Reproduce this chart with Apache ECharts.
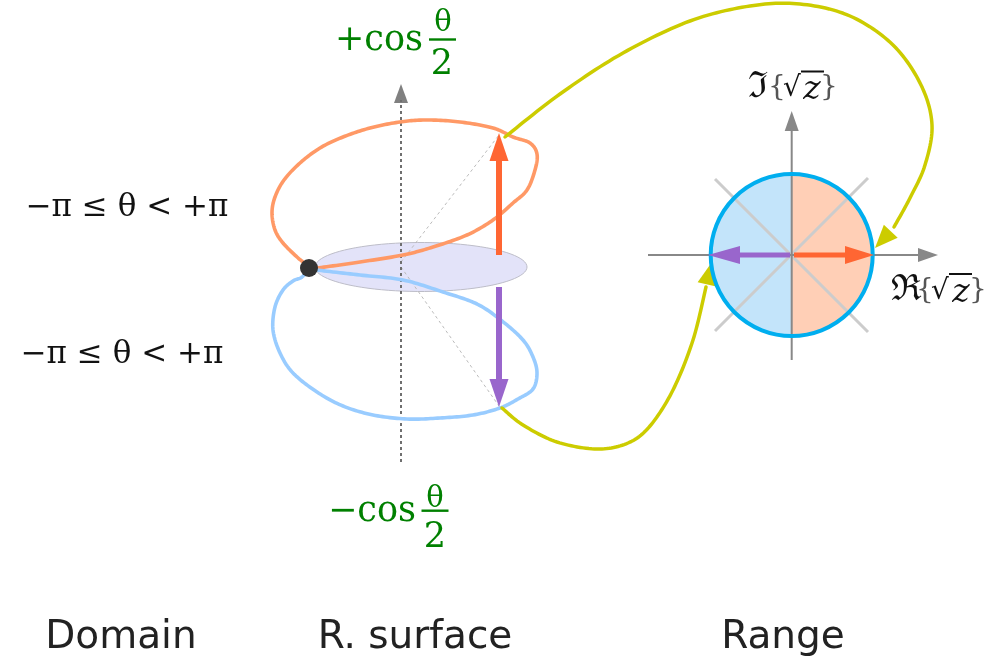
<!DOCTYPE html>
<html>
<head>
<meta charset="utf-8">
<script src="https://cdn.jsdelivr.net/npm/echarts@6/dist/echarts.min.js"></script>
<style>html,body{margin:0;padding:0;background:#fff}#c{width:993px;height:661px}</style>
</head>
<body>
<div id="c"></div>
<script>
// ---- data (diagram coordinates, x to the right, y downwards) ----
const panelTitles = ['Domain', 'R. surface', 'Range'];
const panelTitleX = [121, 415, 783];
const domainRangeText = ['−π ≤ θ < +π', '−π ≤ θ < +π'];

const orangeLoop = [[309,268],[317,268],[360,262],[403,255],[433,247],[467,235],[493,220],[513,203],[527,190],[535,170],[537,154],[530,143],[513,137],[493,128],[460,122],[427,120],[400,122],[370,128],[343,137],[320,148],[300,163],[284,180],[275,197],[272,213],[275,230],[283,243],[297,257],[307,265]];
const blueLoop = [[309,268],[317,270],[360,275],[403,280],[443,292],[477,304],[502,321],[523,340],[533,357],[537,373],[533,389],[518,399],[500,408],[473,415],[440,418],[407,419],[373,415],[343,406],[317,392],[293,373],[280,353],[273,330],[275,307],[283,290],[293,281],[302,277],[309,268]];
const yellowTop = [[505,137],[560,94],[623,53],[690,21],[750,6],[800,4],[850,16],[893,45],[921,85],[932,125],[925,165],[910,198],[894,227]];
const yellowBottom = [[502,408],[523,425],[557,442],[597,449],[628,443],[650,426],[673,390],[693,340],[706,287]];
const yellowTopHead = [[891,231],[875,248]];
const yellowBottomHead = [[707,284],[712,262]];

const surfaceAxis = [[401,462],[401,84]];
const guideUp = [[401,262],[499,135]];
const guideDown = [[401,267],[499,406]];
const surfaceDisk = [[421,267,106,24.5]];
const branchPoint = [[309,268]];
const upArrow = [[499,255],[499,133]];
const downArrow = [[499,287],[499,407]];

const rangeDisk = [[791.7,255,81]];
const rangeXAxis = [[648,255],[938,255]];
const rangeYAxis = [[791.7,360],[791.7,111]];
const diagonalA = [[715,179],[868,332]];
const diagonalB = [[868,178],[715,331]];
const rangeLeftArrow = [[790,255],[708,255]];
const rangeRightArrow = [[794,255],[874,255]];

// ---- helpers ----
function lineSeries(data, z, lineStyle) {
  return {
    type: 'line', data: data, z: z, symbol: 'none', showSymbol: false, silent: true,
    animation: false, smooth: false, lineStyle: lineStyle
  };
}
// smooth curve through the data points (Catmull-Rom), positioned through the axes
function curveSeries(points, color, width, z) {
  return {
    type: 'custom', coordinateSystem: 'cartesian2d', z: z, silent: true, animation: false,
    data: points,
    renderItem: function (params, api) {
      if (params.dataIndex !== 0) return null;
      const P = points.map(function (p) { return api.coord(p); });
      const n = P.length, out = [];
      for (let i = 0; i < n - 1; i++) {
        const p0 = P[Math.max(i - 1, 0)], p1 = P[i], p2 = P[i + 1], p3 = P[Math.min(i + 2, n - 1)];
        const steps = 14;
        for (let s = 0; s < steps; s++) {
          const t = s / steps, t2 = t * t, t3 = t2 * t;
          const f = function (k) {
            return 0.5 * ((2 * p1[k]) + (-p0[k] + p2[k]) * t + (2 * p0[k] - 5 * p1[k] + 4 * p2[k] - p3[k]) * t2 + (-p0[k] + 3 * p1[k] - 3 * p2[k] + p3[k]) * t3);
          };
          out.push([f(0), f(1)]);
        }
      }
      out.push(P[n - 1]);
      return { type: 'polyline', shape: { points: out }, style: { stroke: color, lineWidth: width, fill: null, lineCap: 'round', lineJoin: 'round' } };
    }
  };
}
function arrowSeries(pts, color, shaftW, headL, headW, z) {
  return {
    type: 'custom', coordinateSystem: 'cartesian2d', z: z, silent: true, animation: false,
    data: [[pts[0][0], pts[0][1], pts[1][0], pts[1][1]]],
    encode: { x: [0, 2], y: [1, 3] },
    renderItem: function (params, api) {
      const a = api.coord([api.value(0), api.value(1)]);
      const b = api.coord([api.value(2), api.value(3)]);
      const dx = b[0] - a[0], dy = b[1] - a[1], L = Math.hypot(dx, dy);
      const ux = dx / L, uy = dy / L;
      const bx = b[0] - ux * headL, by = b[1] - uy * headL;
      const ch = [];
      if (shaftW > 0) ch.push({ type: 'line', shape: { x1: a[0], y1: a[1], x2: bx + ux, y2: by + uy }, style: { stroke: color, lineWidth: shaftW } });
      ch.push({ type: 'polygon', shape: { points: [[b[0], b[1]], [bx - uy * headW / 2, by + ux * headW / 2], [bx + uy * headW / 2, by - ux * headW / 2]] }, style: { fill: color } });
      return { type: 'group', children: ch };
    }
  };
}

const series = [];
// ellipse (surface disk)
series.push({
  type: 'custom', coordinateSystem: 'cartesian2d', z: 1, silent: true, animation: false,
  data: surfaceDisk,
  renderItem: function (params, api) {
    const c = api.coord([api.value(0), api.value(1)]);
    const s = api.size([api.value(2), api.value(3)]);
    const pts = [];
    for (let i = 0; i < 90; i++) { const t = i / 90 * Math.PI * 2; pts.push([c[0] + s[0] * Math.cos(t), c[1] + s[1] * Math.sin(t)]); }
    return { type: 'polygon', shape: { points: pts }, style: { fill: '#e3e3f9', stroke: '#bdbdc8', lineWidth: 1 } };
  }
});
const dashed = { color: '#bbbbbb', width: 1, type: [3, 3] };
series.push(lineSeries(guideUp, 2, dashed));
series.push(lineSeries(guideDown, 2, dashed));
series.push(lineSeries([surfaceAxis[0], [401, 100]], 3, { color: '#6f6f6f', width: 2, type: [3, 3] }));
series.push(arrowSeries([[401, 110], surfaceAxis[1]], '#808080', 0, 19, 14, 3));
series.push(curveSeries(orangeLoop, '#ff9966', 3.6, 4));
series.push(curveSeries(blueLoop, '#99ccff', 3.6, 4));
series.push(arrowSeries(upArrow, '#ff6633', 6, 28, 19, 5));
series.push(arrowSeries(downArrow, '#9966cc', 6, 28, 19, 5));
series.push({ type: 'scatter', data: branchPoint, z: 6, silent: true, animation: false, symbolSize: 18, itemStyle: { color: '#333333', opacity: 1 } });
// yellow connectors
series.push(curveSeries(yellowTop, '#cccc00', 3.5, 6));
series.push(arrowSeries(yellowTopHead, '#cccc00', 0, 23, 19, 6));
series.push(curveSeries(yellowBottom, '#cccc00', 3.5, 6));
series.push(arrowSeries(yellowBottomHead, '#cccc00', 0, 23, 19, 6));
// range disk fill
series.push({
  type: 'custom', coordinateSystem: 'cartesian2d', z: 7, silent: true, animation: false,
  data: rangeDisk,
  renderItem: function (params, api) {
    const c = api.coord([api.value(0), api.value(1)]);
    const r = api.size([api.value(2), 0])[0];
    return { type: 'group', children: [
      { type: 'sector', shape: { cx: c[0], cy: c[1], r0: 0, r: r, startAngle: Math.PI / 2, endAngle: Math.PI * 1.5 }, style: { fill: 'rgba(190,226,250,0.92)' } },
      { type: 'sector', shape: { cx: c[0], cy: c[1], r0: 0, r: r, startAngle: -Math.PI / 2, endAngle: Math.PI / 2 }, style: { fill: 'rgba(255,204,178,0.95)' } }
    ] };
  }
});
const diag = { color: '#cccccc', width: 3, cap: 'butt' };
series.push(lineSeries(diagonalA, 8, diag));
series.push(lineSeries(diagonalB, 8, diag));
const axisStyle = { color: '#888888', width: 2, cap: 'butt' };
series.push(lineSeries([rangeXAxis[0], [920, 255]], 8, axisStyle));
series.push(arrowSeries([[910, 255], rangeXAxis[1]], '#888888', 0, 20, 14, 8));
series.push(lineSeries([rangeYAxis[0], [791.7, 128]], 8, axisStyle));
series.push(arrowSeries([[791.7, 140], rangeYAxis[1]], '#888888', 0, 20, 14, 8));
// circle stroke
series.push({
  type: 'custom', coordinateSystem: 'cartesian2d', z: 9, silent: true, animation: false,
  data: rangeDisk,
  renderItem: function (params, api) {
    const c = api.coord([api.value(0), api.value(1)]);
    const r = api.size([api.value(2), 0])[0];
    return { type: 'circle', shape: { cx: c[0], cy: c[1], r: r }, style: { fill: null, stroke: '#00aeef', lineWidth: 4 } };
  }
});
series.push(arrowSeries(rangeLeftArrow, '#9966cc', 5, 32, 18, 10));
series.push(arrowSeries(rangeRightArrow, '#ff6633', 5, 29, 18, 10));

// ---- text ----
const green = '#008000';
const serif = 'DejaVu Serif';
function txt(x, y, text, font, fill, align) {
  return { type: 'text', x: x, y: y, z: 100, silent: true,
    style: { text: text, font: font, fill: fill, textAlign: align || 'center', align: align || 'center', textVerticalAlign: 'middle', verticalAlign: 'middle' } };
}
function bar(x1, x2, y, color, w) {
  return { type: 'line', z: 100, silent: true, shape: { x1: x1, y1: y, x2: x2, y2: y }, style: { stroke: color, lineWidth: w } };
}
const graphic = [
  txt(127, 208, domainRangeText[0], '31px ' + serif, '#111'),
  txt(122, 355, domainRangeText[1], '31px ' + serif, '#111'),
  txt(335, 41, '+cos', '35px ' + serif, green, 'left'),
  txt(443, 23, 'θ', '29px ' + serif, green),
  bar(429, 456, 39.5, green, 2.4),
  txt(442, 65, '2', '35px ' + serif, green),
  txt(328, 512, '−cos', '35px ' + serif, green, 'left'),
  txt(435, 499, 'θ', '29px ' + serif, green),
  bar(421.5, 448.5, 510.7, green, 2.4),
  txt(435, 538, '2', '35px ' + serif, green),
  // Im label
  txt(758, 88, 'ℑ', '36px ' + serif, '#111'),
  txt(777, 88, '{', '28px ' + serif, '#555'),
  txt(792, 89, '√', '28px ' + serif, '#111'),
  txt(812, 90, 'z', 'italic 33px ' + serif, '#111'),
  txt(829, 88, '}', '28px ' + serif, '#555'),
  bar(801, 824, 71.5, '#111', 2),
  // Re label
  txt(906, 291, 'ℜ', '36px ' + serif, '#111'),
  txt(925, 291, '{', '28px ' + serif, '#555'),
  txt(940, 292, '√', '28px ' + serif, '#111'),
  txt(961, 293, 'z', 'italic 33px ' + serif, '#111'),
  txt(978, 291, '}', '28px ' + serif, '#555'),
  bar(949, 972, 274, '#111', 2)
];
panelTitles.forEach(function (t, i) { graphic.push(txt(panelTitleX[i], 638, t, '39px DejaVu Sans', '#222')); });

const chart = echarts.init(document.getElementById('c'), null, { renderer: 'canvas' });
chart.setOption({
  animation: false,
  grid: { left: 0, right: 0, top: 0, bottom: 0 },
  xAxis: { type: 'value', min: 0, max: 993, show: false },
  yAxis: { type: 'value', min: 0, max: 661, inverse: true, show: false },
  series: series,
  graphic: graphic
});
</script>
</body>
</html>
